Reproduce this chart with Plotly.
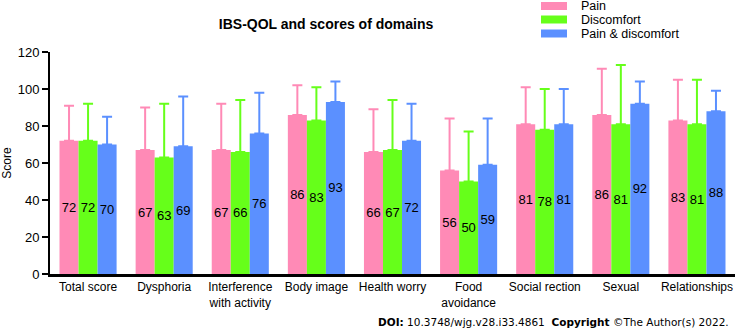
import plotly.graph_objects as go

categories = ["Total score", "Dysphoria", "Interference<br>with activity", "Body image",
              "Health worry", "Food<br>avoidance", "Social rection", "Sexual", "Relationships"]
series_names = ["Pain", "Discomfort", "Pain & discomfort"]
pain = [72, 67, 67, 86, 66, 56, 81, 86, 83]
discomfort = [72, 63, 66, 83, 67, 50, 78, 81, 81]
pain_discomfort = [70, 69, 76, 93, 72, 59, 81, 92, 88]
pain_sd = [19, 23, 25, 16, 23, 28, 20, 25, 22]
discomfort_sd = [20, 29, 28, 18, 27, 27, 22, 32, 24]
pain_discomfort_sd = [15, 27, 22, 11, 20, 25, 19, 12, 11]
y_ticks = [0, 20, 40, 60, 80, 100, 120]

colors = ["#FF8AB6", "#66FF1A", "#5B90FF"]
values = [pain, discomfort, pain_discomfort]
sds = [pain_sd, discomfort_sd, pain_discomfort_sd]

fig = go.Figure()
for name, vals, sd, col in zip(series_names, values, sds, colors):
    fig.add_trace(go.Bar(
        x=categories, y=vals, name=name,
        marker=dict(color=col, line=dict(color=col, width=0)),
        text=[str(v) for v in vals], textposition="inside", insidetextanchor="middle",
        textangle=0,
        textfont=dict(family="Liberation Sans, Arial", size=13, color="black"),
        error_y=dict(type="data", symmetric=False, array=sd, arrayminus=[0] * len(sd),
                     color=col, thickness=2, width=5),
        showlegend=False,
    ))

fig.update_layout(
    width=736, height=329,
    margin=dict(l=50, r=1, t=52, b=55),
    paper_bgcolor="white", plot_bgcolor="white",
    barmode="group", bargap=0.25, bargroupgap=0,
    font=dict(family="Liberation Sans, Arial", size=13, color="black"),
    title=dict(text="<b>IBS-QOL and scores of domains</b>", x=0.443, xanchor="center",
               y=0.927, yanchor="middle", font=dict(size=14, color="black")),
    uniformtext=dict(minsize=13, mode="show"),
)
fig.update_yaxes(range=[0, 120], tickvals=y_ticks, showgrid=False, zeroline=False,
                 showline=True, linecolor="black", linewidth=2,
                 ticks="outside", ticklen=6, tickwidth=2, tickcolor="black",
                 tickfont=dict(size=13), title=dict(text="Score", font=dict(size=12), standoff=6))
fig.update_xaxes(showgrid=False, showline=True, linecolor="black", linewidth=2.5,
                 ticks="", tickfont=dict(size=12))

# Manual legend
legend_y = [6, 19.5, 33.5]
for name, col, yy in zip(series_names, colors, legend_y):
    fig.add_shape(type="rect", xref="paper", yref="paper",
                  x0=(541 - 50) / 685, x1=(567 - 50) / 685,
                  y0=(274 - (yy - 4)) / 222, y1=(274 - (yy + 4)) / 222,
                  fillcolor=col, line=dict(width=0))
    fig.add_annotation(text=name, xref="paper", yref="paper",
                       x=(579 - 50) / 685, y=(274 - yy) / 222, xanchor="left", yanchor="middle",
                       showarrow=False, font=dict(size=12.5, color="black"))

fig.add_annotation(text="<b>DOI:</b> 10.3748/wjg.v28.i33.4861  <b>Copyright</b> ©The Author(s) 2022.",
                   xref="paper", yref="paper", x=(731 - 50) / 685, y=(274 - 322) / 222,
                   xanchor="right", yanchor="middle", showarrow=False,
                   font=dict(family="DejaVu Sans, Verdana", size=10.5, color="black"))

fig.write_html("out.html", config={"displayModeBar": False},
               post_script="document.body.style.margin='0px';")
